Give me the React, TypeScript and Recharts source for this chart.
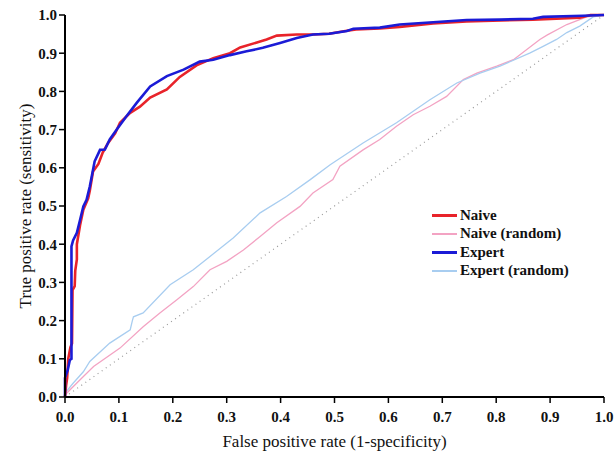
import { LineChart, Line, XAxis, YAxis, Legend, Label, ReferenceLine } from 'recharts'

const TICKS = [0, 0.1, 0.2, 0.3, 0.4, 0.5, 0.6, 0.7, 0.8, 0.9, 1.0]

const NAIVE_FPR = [0, 0.002, 0.004, 0.006, 0.01, 0.013, 0.014, 0.018, 0.019, 0.022, 0.022, 0.028, 0.034, 0.043, 0.046, 0.052, 0.062, 0.07, 0.08, 0.093, 0.102, 0.121, 0.139, 0.158, 0.189, 0.213, 0.244, 0.275, 0.306, 0.325, 0.356, 0.374, 0.393, 0.43, 0.46, 0.49, 0.52, 0.54, 0.584, 0.621, 0.683, 0.745, 0.868, 0.955, 0.975, 1]
const NAIVE_TPR = [0, 0.03, 0.05, 0.1, 0.13, 0.14, 0.28, 0.29, 0.33, 0.36, 0.4, 0.45, 0.49, 0.52, 0.54, 0.59, 0.61, 0.64, 0.665, 0.69, 0.718, 0.744, 0.76, 0.784, 0.805, 0.838, 0.868, 0.887, 0.9, 0.915, 0.928, 0.936, 0.946, 0.949, 0.949, 0.951, 0.958, 0.962, 0.965, 0.969, 0.978, 0.983, 0.988, 0.993, 1, 1]

const EXPERT_FPR = [0, 0, 0.005, 0.009, 0.012, 0.012, 0.015, 0.022, 0.028, 0.034, 0.04, 0.046, 0.052, 0.055, 0.065, 0.074, 0.083, 0.096, 0.114, 0.133, 0.158, 0.189, 0.22, 0.25, 0.275, 0.306, 0.337, 0.367, 0.399, 0.43, 0.46, 0.49, 0.523, 0.535, 0.584, 0.621, 0.683, 0.745, 0.807, 0.868, 0.887, 0.961, 1]
const EXPERT_TPR = [0, 0.05, 0.07, 0.097, 0.1, 0.394, 0.41, 0.43, 0.464, 0.499, 0.516, 0.551, 0.595, 0.617, 0.647, 0.648, 0.674, 0.7, 0.735, 0.77, 0.813, 0.84, 0.857, 0.878, 0.883, 0.895, 0.905, 0.914, 0.927, 0.94, 0.949, 0.951, 0.958, 0.964, 0.967, 0.975, 0.981, 0.987, 0.988, 0.99, 0.995, 0.998, 1]

const NAIVE_RND_FPR = [0, 0.003, 0.028, 0.053, 0.102, 0.145, 0.176, 0.207, 0.238, 0.269, 0.3, 0.331, 0.362, 0.393, 0.436, 0.46, 0.497, 0.51, 0.553, 0.584, 0.615, 0.646, 0.677, 0.708, 0.739, 0.764, 0.801, 0.832, 0.881, 0.895, 0.931, 0.968, 1]
const NAIVE_RND_TPR = [0, 0.01, 0.045, 0.08, 0.128, 0.184, 0.22, 0.254, 0.289, 0.333, 0.355, 0.385, 0.42, 0.456, 0.499, 0.534, 0.569, 0.604, 0.647, 0.674, 0.709, 0.739, 0.761, 0.787, 0.831, 0.848, 0.866, 0.883, 0.936, 0.948, 0.975, 0.995, 1]

const EXPERT_RND_FPR = [0, 0, 0.015, 0.034, 0.046, 0.083, 0.121, 0.125, 0.127, 0.145, 0.195, 0.238, 0.269, 0.312, 0.362, 0.411, 0.455, 0.492, 0.553, 0.615, 0.677, 0.727, 0.77, 0.807, 0.863, 0.887, 0.912, 0.931, 0.955, 0.98, 1]
const EXPERT_RND_TPR = [0, 0.01, 0.036, 0.066, 0.093, 0.141, 0.176, 0.2, 0.21, 0.22, 0.294, 0.333, 0.368, 0.416, 0.482, 0.525, 0.569, 0.608, 0.665, 0.718, 0.778, 0.822, 0.848, 0.866, 0.901, 0.918, 0.936, 0.954, 0.971, 0.995, 1]

const toPoints = (fpr: number[], tpr: number[]) => fpr.map((x, i) => ({ x, y: tpr[i] }))

const SERIES = [
  { name: 'Naive', color: '#e8232a', width: 2.6, data: toPoints(NAIVE_FPR, NAIVE_TPR) },
  { name: 'Naive (random)', color: '#f3a3c3', width: 1.3, data: toPoints(NAIVE_RND_FPR, NAIVE_RND_TPR) },
  { name: 'Expert', color: '#1b1bd6', width: 2.6, data: toPoints(EXPERT_FPR, EXPERT_TPR) },
  { name: 'Expert (random)', color: '#a8cdf0', width: 1.3, data: toPoints(EXPERT_RND_FPR, EXPERT_RND_TPR) },
]

// random curves underneath, experts on top
const DRAW_ORDER = [1, 3, 0, 2]

const FONT = 'Liberation Serif'

function XTick(props: any) {
  const { x, y, payload } = props
  return (
    <text x={x} y={y} dy="0.71em" textAnchor="middle" fontFamily={FONT} fontWeight="bold" fontSize={15} fill="#111">
      {Number(payload.value).toFixed(1)}
    </text>
  )
}

function YTick(props: any) {
  const { x, y, payload } = props
  return (
    <text x={x} y={y} dy="0.355em" textAnchor="end" fontFamily={FONT} fontWeight="bold" fontSize={15} fill="#111">
      {Number(payload.value).toFixed(1)}
    </text>
  )
}

function LegendBox() {
  return (
    <div style={{ fontFamily: FONT, fontSize: 15, fontWeight: 'bold', color: '#111' }}>
      {SERIES.map((s) => (
        <div key={s.name} style={{ display: 'flex', alignItems: 'center', height: 18.5 }}>
          <span style={{ display: 'inline-block', width: 25, height: s.width > 2 ? 3 : 1.5, background: s.color, marginRight: 3 }} />
          <span>{s.name}</span>
        </div>
      ))}
    </div>
  )
}

export default function App() {
  return (
    <div style={{ position: 'absolute', left: 0, top: 0, background: '#fff', fontFamily: FONT }}>
      <LineChart width={615} height={454} margin={{ top: 15, right: 11, bottom: 0, left: 0 }}>
        <XAxis
          dataKey="x"
          type="number"
          domain={[0, 1]}
          ticks={TICKS}
          tick={<XTick />}
          height={57}
          tickSize={6}
          tickMargin={8}
          axisLine={{ stroke: '#000', strokeWidth: 2 }}
          tickLine={{ stroke: '#000', strokeWidth: 1.5 }}
        >
          <Label
            value="False positive rate (1-specificity)"
            position="insideBottom"
            offset={7}
            style={{ fontFamily: FONT, fontSize: 17, fill: '#111' }}
          />
        </XAxis>
        <YAxis
          dataKey="y"
          type="number"
          domain={[0, 1]}
          ticks={TICKS}
          tick={<YTick />}
          width={65}
          tickSize={6}
          tickMargin={2}
          axisLine={{ stroke: '#000', strokeWidth: 2 }}
          tickLine={{ stroke: '#000', strokeWidth: 1.5 }}
        >
          <Label
            value="True positive rate (sensitivity)"
            position="insideLeft"
            angle={-90}
            offset={25}
            style={{ fontFamily: FONT, fontSize: 17, fill: '#111', textAnchor: 'middle' }}
          />
        </YAxis>
        <ReferenceLine
          segment={[{ x: 0, y: 0 }, { x: 1, y: 1 }]}
          stroke="#9a9a9a"
          strokeWidth={1.2}
          strokeDasharray="1 4"
          ifOverflow="visible"
        />
        {DRAW_ORDER.map((i) => {
          const s = SERIES[i]
          return (
            <Line
              key={s.name}
              data={s.data}
              dataKey="y"
              name={s.name}
              type="linear"
              stroke={s.color}
              strokeWidth={s.width}
              dot={false}
              activeDot={false}
              isAnimationActive={false}
            />
          )
        })}
        <Legend
          layout="vertical"
          align="center"
          verticalAlign="middle"
          content={() => <LegendBox />}
          wrapperStyle={{ left: 432, top: 206, width: 170 }}
        />
      </LineChart>
    </div>
  )
}
